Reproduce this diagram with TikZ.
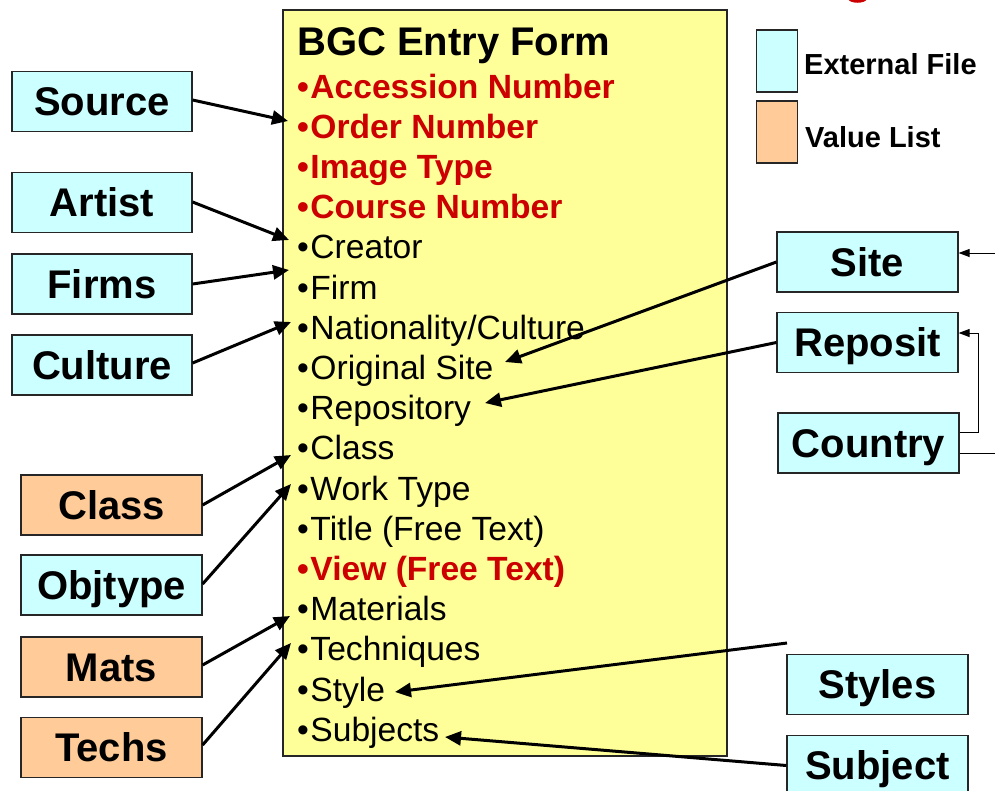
\documentclass[tikz,border=0pt]{standalone}
\usepackage{fontspec}
\setmainfont{Liberation Sans}
\usetikzlibrary{arrows.meta,calc}
\definecolor{cyanbox}{HTML}{CCFFFF}
\definecolor{orangebox}{HTML}{FFCC99}
\definecolor{yellowbox}{HTML}{FFFF99}
\definecolor{redtext}{HTML}{CC0000}
\newcommand{\bul}{•\kern1.5pt}
\begin{document}
\begin{tikzpicture}[x=1pt,y=-1pt,
  box/.style={draw=black!85, line width=1.2pt, minimum width=180pt, minimum height=60pt,
    inner sep=0pt, text height=28.6pt, text depth=0pt, font=\fontsize{40}{48}\selectfont\bfseries},
  ext/.style={box, fill=cyanbox},
  val/.style={box, fill=orangebox},
  item/.style={anchor=base west, inner sep=0pt, font=\fontsize{33.6}{40}\selectfont},
  req/.style={item, text=redtext, font=\fontsize{33.6}{40}\selectfont\bfseries},
  legbox/.style={draw=black!85, line width=1.2pt, minimum width=41pt, minimum height=62pt, inner sep=0pt},
  leglabel/.style={anchor=base west, inner sep=0pt, font=\fontsize{29}{34}\selectfont\bfseries},
  link/.style={line width=3pt, -{Triangle[length=16pt,width=14pt]}},
  thinlink/.style={line width=1pt, -{Triangle[length=11pt,width=8pt]}},
  thinline/.style={line width=1pt},
]
\useasboundingbox (0,0) rectangle (995,790);

% bottom of a red glyph cut off at the top edge
\fill[redtext] (848,-1) .. controls (850,4) and (865,4) .. (867,-1) -- cycle;

% main form
\node[draw=black!85, fill=yellowbox, line width=1.2pt, minimum width=444pt, minimum height=746pt, inner sep=0pt] (form) at (505,383) {};
\node[anchor=base west, inner sep=0pt, font=\fontsize{40}{48}\selectfont\bfseries] (title) at (297,55) {BGC Entry Form};
\node[req]  (i0)  at (297,98.0)  {\bul Accession Number};
\node[req]  (i1)  at (297,138.2) {\bul Order Number};
\node[req]  (i2)  at (297,178.4) {\bul Image Type};
\node[req]  (i3)  at (297,218.6) {\bul Course Number};
\node[item] (i4)  at (297,258.8) {\bul Creator};
\node[item] (i5)  at (297,299.0) {\bul Firm};
\node[item] (i6)  at (297,339.2) {\bul Nationality/Culture};
\node[item] (i7)  at (297,379.4) {\bul Original Site};
\node[item] (i8)  at (297,419.6) {\bul Repository};
\node[item] (i9)  at (297,459.8) {\bul Class};
\node[item] (i10) at (297,500.0) {\bul Work Type};
\node[item] (i11) at (297,540.2) {\bul Title (Free Text)};
\node[req]  (i12) at (297,580.4) {\bul View (Free Text)};
\node[item] (i13) at (297,620.6) {\bul Materials};
\node[item] (i14) at (297,660.8) {\bul Techniques};
\node[item] (i15) at (297,701.0) {\bul Style};
\node[item] (i16) at (297,741.2) {\bul Subjects};

% legend
\node[legbox, fill=cyanbox]   (legext) at (777,61)  {};
\node[leglabel] (legextlabel) at (804,74)  {External File};
\node[legbox, fill=orangebox] (legval) at (777,132) {};
\node[leglabel] (legvallabel) at (805,147) {Value List};

% left boxes
\node[ext] (source)  at (102,101.5) {Source};
\node[ext] (artist)  at (102,202.5) {Artist};
\node[ext] (firms)   at (102,284)   {Firms};
\node[ext] (culture) at (102,365)   {Culture};
\node[val, minimum width=181pt] (class)   at (111.5,505) {Class};
\node[ext, minimum width=181pt] (objtype) at (111.5,585) {Objtype};
\node[val, minimum width=181pt] (mats)    at (111.5,667) {Mats};
\node[val, minimum width=181pt] (techs)   at (111.5,747.5) {Techs};

% right boxes
\node[ext, minimum width=181pt] (site)    at (867.5,262)   {Site};
\node[ext, minimum width=181pt] (reposit) at (867.5,342.5) {Reposit};
\node[ext, minimum width=181pt] (country) at (868.5,443)   {Country};
\node[ext, minimum width=181pt] (styles)  at (877.5,684.5) {Styles};
\node[ext, minimum width=181pt] (subject) at (877.5,765.5) {Subject};

% arrow targets in the form
\coordinate (tSource)  at (288,121);
\coordinate (tArtist)  at (289,240);
\coordinate (tFirms)   at (289,270);
\coordinate (tCulture) at (291,322);
\coordinate (tClass)   at (291,455);
\coordinate (tObj)     at (291,484);
\coordinate (tMats)    at (290,616);
\coordinate (tTechs)   at (291,643);
\coordinate (tSite)    at (505,362);
\coordinate (tRepo)    at (485,403);
\coordinate (tStyle)   at (395,692);
\coordinate (tSubj)    at (445,737);
\coordinate (stylesEnd) at (787,643);
\coordinate (siteIn)   at (995,253);
\coordinate (countryOut) at (995,453);

% thick connectors
\draw[link] ($(source.east)+(0,-1.5)$) -- (tSource);
\draw[link] ($(artist.east)+(0,-0.5)$) -- (tArtist);
\draw[link] (firms.east) -- (tFirms);
\draw[link] ($(culture.east)+(0,-2)$) -- (tCulture);
\draw[link] (class.east) -- (tClass);
\draw[link] ($(objtype.east)+(0,-1)$) -- (tObj);
\draw[link] ($(mats.east)+(0,-2)$) -- (tMats);
\draw[link] ($(techs.east)+(0,-2.5)$) -- (tTechs);
\draw[link] (site.west) -- (tSite);
\draw[link] (reposit.west) -- (tRepo);
\draw[link] (stylesEnd) -- (tStyle);
\draw[link] (subject.west) -- (tSubj);

% thin connectors
\draw[thinlink] (siteIn) -- (site.east |- siteIn);
\draw[thinlink] ($(country.east)+(0,-11)$) -- ++(19,0) |- ($(reposit.east)+(0,-9.5)$);
\draw[thinline] (country.east |- countryOut) -- (countryOut);
\end{tikzpicture}
\end{document}
